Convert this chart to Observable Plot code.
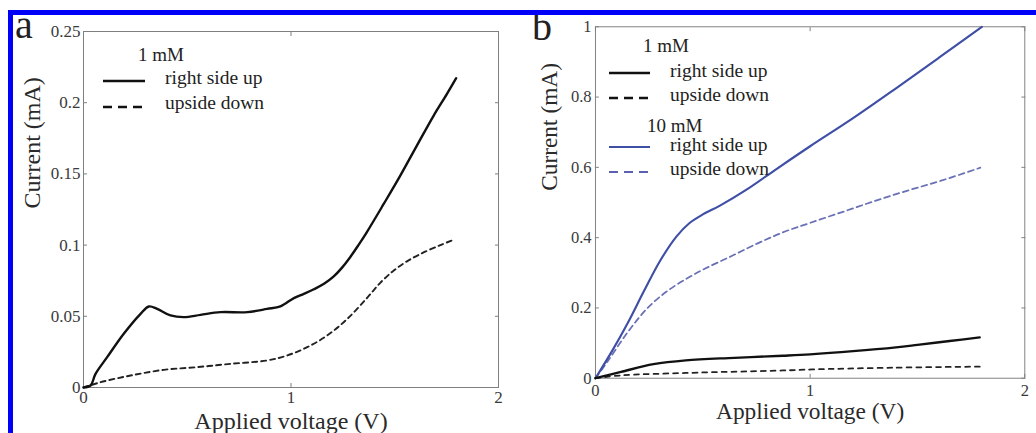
<!DOCTYPE html>
<html><head><meta charset="utf-8">
<script src="https://cdn.jsdelivr.net/npm/d3@7"></script>
<script src="https://cdn.jsdelivr.net/npm/@observablehq/plot@0.6"></script>
<style>
html,body{margin:0;padding:0;background:#fff;overflow:hidden;}
#wrap{position:relative;width:1036px;height:433px;overflow:hidden;background:#fff;}
.panel{position:absolute;top:0;}
#border{position:absolute;left:8px;top:10px;width:1100px;height:500px;border-top:5px solid #0000f6;border-left:5px solid #0000f6;box-sizing:border-box;pointer-events:none;}
#overlay{position:absolute;left:0;top:0;pointer-events:none;font-family:"Liberation Serif","Times New Roman",serif;}
</style></head><body>
<div id="wrap">
  <div id="pa" class="panel" style="left:0px"></div>
  <div id="pb" class="panel" style="left:520px"></div>
  <svg id="overlay" width="1036" height="433"></svg>
  <div id="border"></div>
</div>
<script>
// ---------- data (voltage V, current mA) ----------
// Panel a, 1 mM
const aUpV   = [0,0.034,0.058,0.114,0.194,0.275,0.315,0.355,0.419,0.484,0.564,0.660,0.789,0.885,0.949,1.014,1.062,1.110,1.159,1.206,1.245,1.285,1.325,1.365,1.446,1.526,1.606,1.687,1.751,1.796];
const aUpI   = [0,0.0014,0.0096,0.0213,0.0377,0.0517,0.0569,0.0552,0.0506,0.0494,0.0510,0.0529,0.0529,0.0552,0.0570,0.0628,0.0658,0.0690,0.0728,0.0780,0.0840,0.0915,0.1000,0.1090,0.1287,0.1486,0.1697,0.1908,0.2060,0.2172];
const aDownV = [0,0.082,0.227,0.387,0.548,0.708,0.885,0.982,1.078,1.174,1.270,1.367,1.430,1.490,1.550,1.620,1.720,1.780];
const aDownI = [0,0.0037,0.0084,0.0124,0.0143,0.0166,0.0190,0.0225,0.0283,0.0365,0.0480,0.0630,0.0735,0.0815,0.0878,0.0935,0.1000,0.1035];
// Panel b, 1 mM
const b1UpV   = [0,0.119,0.270,0.421,0.647,0.873,1.000,1.200,1.400,1.500,1.650,1.790];
const b1UpI   = [0,0.018,0.040,0.051,0.058,0.064,0.068,0.077,0.088,0.095,0.106,0.116];
const b1DownV = [0,0.119,0.421,0.873,1.009,1.386,1.790];
const b1DownI = [0,0.008,0.015,0.022,0.025,0.030,0.033];
// Panel b, 10 mM
const b10UpV   = [0,0.075,0.151,0.226,0.302,0.377,0.437,0.500,0.580,0.700,0.850,1.000,1.200,1.400,1.600,1.800];
const b10UpI   = [0,0.075,0.158,0.248,0.335,0.403,0.441,0.466,0.491,0.535,0.598,0.660,0.740,0.825,0.912,1.000];
const b10DownV = [0,0.059,0.149,0.240,0.330,0.421,0.511,0.632,0.753,0.873,1.000,1.160,1.310,1.460,1.610,1.793];
const b10DownI = [0,0.050,0.130,0.198,0.246,0.282,0.312,0.347,0.383,0.415,0.442,0.475,0.506,0.535,0.562,0.599];
// tick labels
const xTicks  = [0,1,2];
const yTicksA = [0,0.05,0.1,0.15,0.2,0.25];
const yTicksB = [0,0.2,0.4,0.6,0.8,1];
const xLabel = "Applied voltage (V)";
const yLabel = "Current (mA)";
const concLabels = ["1 mM","10 mM"];
const seriesLabels = ["right side up","upside down"];
const panelLetters = ["a","b"];

// ---------- build ----------
const pts = (V, I) => V.map((v, k) => ({v, i: I[k]}));
const FONT = "'Liberation Serif', 'Times New Roman', serif";
const FRAME = "#7f7f7f";

function axes(yTicks, xPad, yPad, yLabDx, yLabDy, xLabDy) {
  const fmt = d => String(d);
  return [
    Plot.frame({stroke: FRAME, strokeWidth: 1}),
    Plot.axisX({ticks: xTicks, anchor: "bottom", tickSize: -4, tickPadding: xPad, fontSize: 17, stroke: FRAME, fill: "#3a3a3a", tickFormat: fmt, label: null}),
    Plot.axisX({ticks: xTicks, anchor: "top", tickSize: -4, stroke: FRAME, tickFormat: () => "", label: null}),
    Plot.axisY({ticks: yTicks, anchor: "left", tickSize: -4, tickPadding: yPad, fontSize: 17, stroke: FRAME, fill: "#3a3a3a", tickFormat: fmt, label: null}),
    Plot.axisY({ticks: yTicks, anchor: "right", tickSize: -4, stroke: FRAME, tickFormat: () => "", label: null}),
    Plot.text([yLabel], {frameAnchor: "left", rotate: -90, dx: yLabDx, dy: yLabDy, fontSize: 24, fill: "#2a2a2a", text: d => d}),
    Plot.text([xLabel], {frameAnchor: "bottom", lineAnchor: "top", dy: xLabDy, fontSize: 24, fill: "#2a2a2a", text: d => d})
  ];
}

const plotA = Plot.plot({
  width: 510, height: 433,
  marginLeft: 83, marginRight: 12, marginTop: 31, marginBottom: 46,
  style: {fontFamily: FONT, background: "transparent", color: "#333", overflow: "visible"},
  x: {domain: [0, 2]},
  y: {domain: [0, 0.25]},
  marks: [
    ...axes(yTicksA, 7, 7, -51, -1, 24),
    Plot.line(pts(aDownV, aDownI), {x: "v", y: "i", stroke: "#222", strokeWidth: 1.9, strokeDasharray: "5,4", curve: "catmull-rom"}),
    Plot.line(pts(aUpV, aUpI), {x: "v", y: "i", stroke: "#111", strokeWidth: 2.4, curve: "catmull-rom"})
  ]
});
document.getElementById("pa").appendChild(plotA);

const plotB = Plot.plot({
  width: 530, height: 433,
  marginLeft: 77, marginRight: 12, marginTop: 27, marginBottom: 45,
  style: {fontFamily: FONT, background: "transparent", color: "#333", overflow: "visible"},
  x: {domain: [0, 2]},
  y: {domain: [0, 1]},
  marks: [
    ...axes(yTicksB, 10, 8, -47, -12, 25),
    Plot.line(pts(b10DownV, b10DownI), {x: "v", y: "i", stroke: "#6a70b6", strokeWidth: 1.8, strokeDasharray: "6,4", curve: "catmull-rom"}),
    Plot.line(pts(b10UpV, b10UpI), {x: "v", y: "i", stroke: "#3f4fa6", strokeWidth: 2.2, curve: "catmull-rom"}),
    Plot.line(pts(b1DownV, b1DownI), {x: "v", y: "i", stroke: "#222", strokeWidth: 1.8, strokeDasharray: "5,5", curve: "catmull-rom"}),
    Plot.line(pts(b1UpV, b1UpI), {x: "v", y: "i", stroke: "#111", strokeWidth: 2.4, curve: "catmull-rom"})
  ]
});
document.getElementById("pb").appendChild(plotB);

// ---------- legends & panel letters ----------
const ov = d3.select("#overlay");
function legend(entries, textX, lineX1, lineX2) {
  for (const e of entries) {
    if (e.type === "head") {
      ov.append("text").attr("x", e.x).attr("y", e.y).attr("font-size", 19).attr("fill", "#222").text(e.label);
    } else {
      ov.append("line").attr("x1", lineX1).attr("x2", lineX2).attr("y1", e.ly).attr("y2", e.ly)
        .attr("stroke", e.color).attr("stroke-width", e.w).attr("stroke-dasharray", e.dash || null);
      ov.append("text").attr("x", textX).attr("y", e.y).attr("font-size", 19.5).attr("fill", "#222").text(e.label);
    }
  }
}
legend([
  {type: "head", x: 138, y: 61, label: concLabels[0]},
  {ly: 81, y: 84, label: seriesLabels[0], color: "#111", w: 2.6},
  {ly: 107, y: 109, label: seriesLabels[1], color: "#111", w: 2.6, dash: "9,6"}
], 165, 103, 145);
legend([
  {type: "head", x: 643, y: 52, label: concLabels[0]},
  {ly: 73, y: 77, label: seriesLabels[0], color: "#111", w: 2.6},
  {ly: 98, y: 101, label: seriesLabels[1], color: "#111", w: 2.6, dash: "9,6"},
  {type: "head", x: 647, y: 132, label: concLabels[1]},
  {ly: 147, y: 151, label: seriesLabels[0], color: "#3f4fa6", w: 2},
  {ly: 172, y: 175, label: seriesLabels[1], color: "#5a62b0", w: 2, dash: "9,6"}
], 670, 609, 650);

ov.append("text").attr("x", 15).attr("y", 38).attr("font-size", 40).attr("fill", "#222").text(panelLetters[0]);
ov.append("text").attr("x", 532).attr("y", 40).attr("font-size", 40).attr("fill", "#222").text(panelLetters[1]);
</script>
</body></html>
